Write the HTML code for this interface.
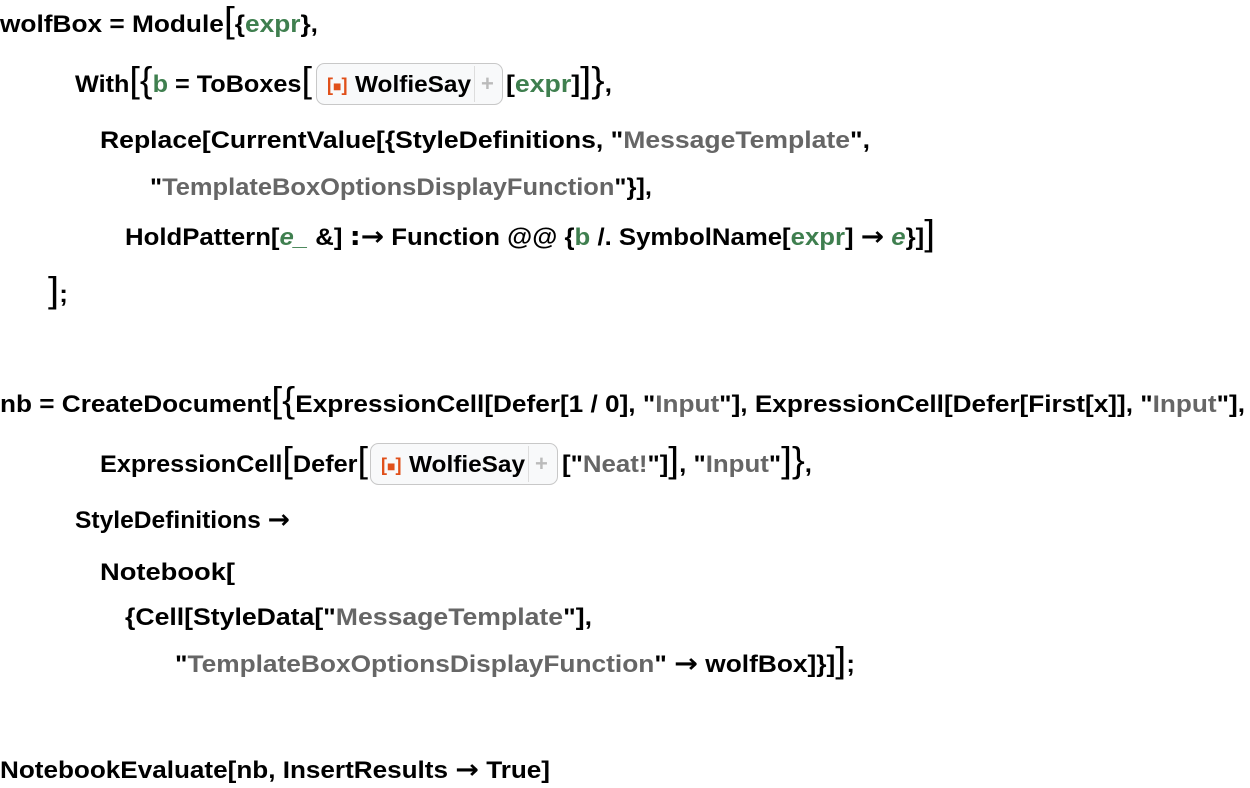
<!DOCTYPE html>
<html><head><style>
html,body{margin:0;padding:0;background:#fff;}
svg{display:block}
text{font-family:"Liberation Sans",sans-serif;font-weight:bold;font-size:24px;fill:#000;}
.g{fill:#3f7f4f}.s{fill:#666}.b{font-size:36px;font-weight:normal}
.a{font-family:"DejaVu Sans",sans-serif;font-size:26px}
.w{font-weight:bold;font-size:23px}
</style></head><body>
<svg width="1250" height="788" viewBox="0 0 1250 788">
<text x="0" y="32" textLength="318" lengthAdjust="spacingAndGlyphs">wolfBox = Module<tspan class="b">[</tspan>{<tspan class="g">expr</tspan>},</text>

<text x="75" y="92" textLength="237" lengthAdjust="spacingAndGlyphs">With<tspan class="b">[{</tspan><tspan class="g">b</tspan> = ToBoxes<tspan class="b">[</tspan></text>
<rect x="316.5" y="63.5" width="186" height="41" rx="8" fill="#f8f9fa" stroke="#c8c8c8"/>
<text x="327" y="91" style="fill:#e0501a;font-size:18px">[<tspan style="font-size:14px">■</tspan>]</text>
<text x="355" y="92" class="w" textLength="116" lengthAdjust="spacingAndGlyphs">WolfieSay</text>
<line x1="474.5" y1="66" x2="474.5" y2="102" stroke="#ddd"/>
<text x="481" y="91" style="fill:#bbb;font-size:22px">+</text>
<text x="506" y="92" textLength="106" lengthAdjust="spacingAndGlyphs">[<tspan class="g">expr</tspan>]<tspan class="b">]}</tspan>,</text>

<text x="100" y="148" textLength="770" lengthAdjust="spacingAndGlyphs">Replace[CurrentValue[{StyleDefinitions, "<tspan class="s">MessageTemplate</tspan>",</text>
<text x="150" y="195" textLength="502" lengthAdjust="spacingAndGlyphs">"<tspan class="s">TemplateBoxOptionsDisplayFunction</tspan>"}],</text>
<text x="125" y="245" textLength="810" lengthAdjust="spacingAndGlyphs">HoldPattern[<tspan class="g" font-style="italic">e_</tspan> &amp;] <tspan class="a">:→</tspan> Function @@ {<tspan class="g">b</tspan> /. SymbolName[<tspan class="g">expr</tspan>] <tspan class="a">→</tspan> <tspan class="g" font-style="italic">e</tspan>}]<tspan class="b">]</tspan></text>
<text x="48" y="302" textLength="20" lengthAdjust="spacingAndGlyphs"><tspan class="b">]</tspan>;</text>

<text x="0" y="412" textLength="1245" lengthAdjust="spacingAndGlyphs">nb = CreateDocument<tspan class="b">[{</tspan>ExpressionCell[Defer[1 / 0], "<tspan class="s">Input</tspan>"], ExpressionCell[Defer[First[x]], "<tspan class="s">Input</tspan>"],</text>

<text x="100" y="472" textLength="268" lengthAdjust="spacingAndGlyphs">ExpressionCell<tspan class="b">[</tspan>Defer<tspan class="b">[</tspan></text>
<rect x="370.5" y="443.5" width="187" height="41" rx="8" fill="#f8f9fa" stroke="#c8c8c8"/>
<text x="381" y="471" style="fill:#e0501a;font-size:18px">[<tspan style="font-size:14px">■</tspan>]</text>
<text x="409" y="472" class="w" textLength="116" lengthAdjust="spacingAndGlyphs">WolfieSay</text>
<line x1="528.5" y1="446" x2="528.5" y2="482" stroke="#ddd"/>
<text x="535" y="471" style="fill:#bbb;font-size:22px">+</text>
<text x="562" y="472" textLength="250" lengthAdjust="spacingAndGlyphs">["<tspan class="s">Neat!</tspan>"]<tspan class="b">]</tspan>, "<tspan class="s">Input</tspan>"<tspan class="b">]}</tspan>,</text>

<text x="75" y="528" textLength="215" lengthAdjust="spacingAndGlyphs">StyleDefinitions <tspan class="a">→</tspan></text>
<text x="100" y="580" textLength="135" lengthAdjust="spacingAndGlyphs">Notebook[</text>
<text x="125" y="625" textLength="467" lengthAdjust="spacingAndGlyphs">{Cell[StyleData["<tspan class="s">MessageTemplate</tspan>"],</text>
<text x="175" y="672" textLength="680" lengthAdjust="spacingAndGlyphs">"<tspan class="s">TemplateBoxOptionsDisplayFunction</tspan>" <tspan class="a">→</tspan> wolfBox]}]<tspan class="b">]</tspan>;</text>

<text x="0" y="778" textLength="550" lengthAdjust="spacingAndGlyphs">NotebookEvaluate[nb, InsertResults <tspan class="a">→</tspan> True]</text>
</svg>
</body></html>
